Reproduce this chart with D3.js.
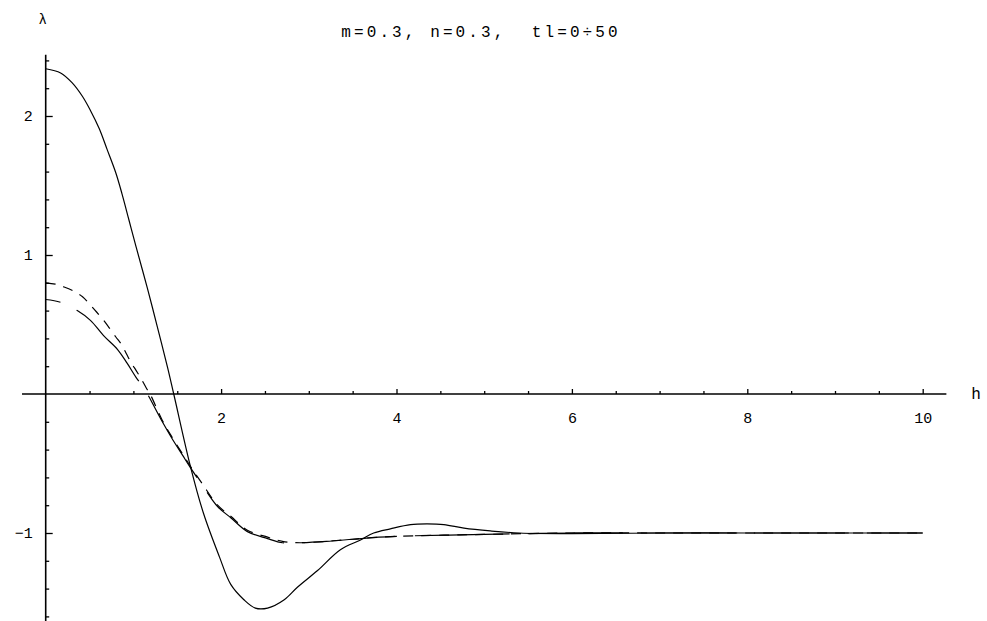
<!DOCTYPE html>
<html>
<head>
<meta charset="utf-8">
<script src="https://cdn.jsdelivr.net/npm/d3@7/dist/d3.min.js"></script>
<style>
  body { margin: 0; background: #fff; }
  svg { display: block; }
  text { font-family: "Courier New", "Liberation Mono", monospace; fill: #000; }
</style>
</head>
<body>
<div class="container"></div>
<script>
// values
const hBig = [0, 0.17, 0.30, 0.42, 0.51, 0.61, 0.70, 0.80, 0.87, 0.95, 1.03, 1.16, 1.27, 1.39, 1.46, 1.65, 1.80, 1.98, 2.11, 2.26, 2.39, 2.53, 2.72, 2.87, 3.10, 3.36, 3.59, 3.74, 3.93, 4.16, 4.35, 4.54, 4.77, 5.07, 5.4, 6.0, 7.0, 8.0, 9.0, 10.0],
    lamBig = [2.34, 2.31, 2.24, 2.14, 2.04, 1.91, 1.76, 1.59, 1.44, 1.25, 1.06, 0.76, 0.49, 0.19, 0, -0.52, -0.86, -1.17, -1.37, -1.48, -1.54, -1.54, -1.48, -1.39, -1.27, -1.12, -1.05, -1.00, -0.97, -0.94, -0.935, -0.94, -0.965, -0.985, -1.0, -1.005, -1.0, -1.0, -1.0, -1.0];

const hA = [0, 0.11, 0.21, 0.32, 0.42, 0.51, 0.58, 0.66, 0.72, 0.80, 0.86, 0.92, 0.97, 1.03, 1.08, 1.15, 1.19, 1.33, 1.44, 1.56, 1.65, 1.79, 1.96, 2.11, 2.30, 2.53, 2.70, 2.9, 3.2, 3.5, 3.8, 4.2, 4.6, 5.0, 6.0, 7.0, 8.0, 9.0, 10.0],
    lamA = [0.80, 0.79, 0.77, 0.74, 0.70, 0.64, 0.59, 0.53, 0.48, 0.41, 0.36, 0.29, 0.23, 0.17, 0.12, 0.04, 0, -0.19, -0.31, -0.43, -0.52, -0.65, -0.80, -0.88, -0.98, -1.03, -1.06, -1.07, -1.06, -1.045, -1.03, -1.02, -1.015, -1.01, -1.0, -1.0, -1.0, -1.0, -1.0];

const hB = [0, 0.17, 0.36, 0.51, 0.66, 0.82, 0.93, 1.03, 1.10, 1.16, 1.33, 1.44, 1.56, 1.65, 1.79, 1.96, 2.11, 2.30, 2.53, 2.70, 2.9, 3.2, 3.5, 3.8, 4.2, 4.6, 5.0, 6.0, 7.0, 8.0, 9.0, 10.0],
    lamB = [0.68, 0.66, 0.60, 0.53, 0.42, 0.32, 0.22, 0.12, 0.06, 0, -0.20, -0.32, -0.44, -0.53, -0.66, -0.81, -0.89, -0.99, -1.04, -1.07, -1.07, -1.06, -1.045, -1.03, -1.02, -1.015, -1.01, -1.0, -1.0, -1.0, -1.0, -1.0];

const xMajor = [2, 4, 6, 8, 10],
    xMinor = d3.range(0.5, 10, 0.5).filter(v => v % 2 !== 0),
    yMajor = [-1, 1, 2],
    yMinor = d3.range(-16, 25, 2).map(v => v / 10).filter(v => !Number.isInteger(v));

const title = "m=0.3, n=0.3,  tl=0÷50";

const width = 987, height = 621;

const svg = d3.select('.container')
    .append('svg')
    .attr('width', width)
    .attr('height', height);

const xScale = d3.scaleLinear().domain([0, 10]).range([45.7, 922.7]);
const yScale = d3.scaleLinear().domain([0, 2]).range([394, 116]);

// axis lines
svg.append('line')
    .attr('x1', xScale(-0.27)).attr('x2', xScale(10.27))
    .attr('y1', yScale(0)).attr('y2', yScale(0))
    .attr('stroke', '#000').attr('stroke-width', 1.6);
svg.append('line')
    .attr('x1', xScale(0)).attr('x2', xScale(0))
    .attr('y1', yScale(2.44)).attr('y2', height)
    .attr('stroke', '#000').attr('stroke-width', 1.6);

const tickStyle = g => {
    g.select('.domain').remove();
    g.selectAll('line').attr('stroke', '#000').attr('stroke-width', 1.3);
};

// x ticks point up, labels below
svg.append('g').attr('transform', `translate(0,${yScale(0)})`)
    .call(d3.axisTop(xScale).tickValues(xMajor).tickSize(5).tickFormat(''))
    .call(tickStyle);
svg.append('g').attr('transform', `translate(0,${yScale(0)})`)
    .call(d3.axisTop(xScale).tickValues(xMinor).tickSize(3).tickFormat(''))
    .call(tickStyle);
svg.append('g').attr('transform', `translate(0,${yScale(0)})`)
    .call(d3.axisBottom(xScale).tickValues(xMajor).tickSize(0).tickPadding(18).tickFormat(d3.format('d')))
    .call(g => g.select('.domain').remove())
    .call(g => g.selectAll('text').attr('font-size', 15).attr('font-family', '"Courier New", "Liberation Mono", monospace'));

// y ticks point right, labels left
svg.append('g').attr('transform', `translate(${xScale(0)},0)`)
    .call(d3.axisRight(yScale).tickValues(yMajor).tickSize(7).tickFormat(''))
    .call(tickStyle);
svg.append('g').attr('transform', `translate(${xScale(0)},0)`)
    .call(d3.axisRight(yScale).tickValues(yMinor).tickSize(3.5).tickFormat(''))
    .call(tickStyle);
svg.append('g').attr('transform', `translate(${xScale(0)},0)`)
    .call(d3.axisLeft(yScale).tickValues(yMajor).tickSize(0).tickPadding(13).tickFormat(d3.format('d')))
    .call(g => g.select('.domain').remove())
    .call(g => g.selectAll('text').attr('font-size', 15).attr('font-family', '"Courier New", "Liberation Mono", monospace'));

// curves
const line = d3.line()
    .x(d => xScale(d[0]))
    .y(d => yScale(d[1]))
    .curve(d3.curveCatmullRom);

const series = [
    {h: hBig, v: lamBig, dash: null},
    {h: hA, v: lamA, dash: '10,8', offset: 0},
    {h: hB, v: lamB, dash: '95,18', offset: 80}
];

series.forEach(s => {
    svg.append('path')
        .datum(d3.zip(s.h, s.v))
        .attr('d', line)
        .attr('fill', 'none')
        .attr('stroke', '#000')
        .attr('stroke-width', 1.2)
        .attr('stroke-dasharray', s.dash)
        .attr('stroke-dashoffset', s.offset || 0);
});

// labels
svg.append('text')
    .attr('x', 42.7).attr('y', 24)
    .attr('text-anchor', 'middle')
    .attr('font-size', 14)
    .text('λ');
svg.append('text')
    .attr('x', 976).attr('y', 399)
    .attr('text-anchor', 'middle')
    .attr('font-size', 16)
    .text('h');
svg.append('text')
    .attr('x', 481).attr('y', 37)
    .attr('text-anchor', 'middle')
    .attr('font-size', 16)
    .attr('letter-spacing', 3.1)
    .attr('xml:space', 'preserve')
    .style('white-space', 'pre')
    .text(title);
</script>
</body>
</html>
